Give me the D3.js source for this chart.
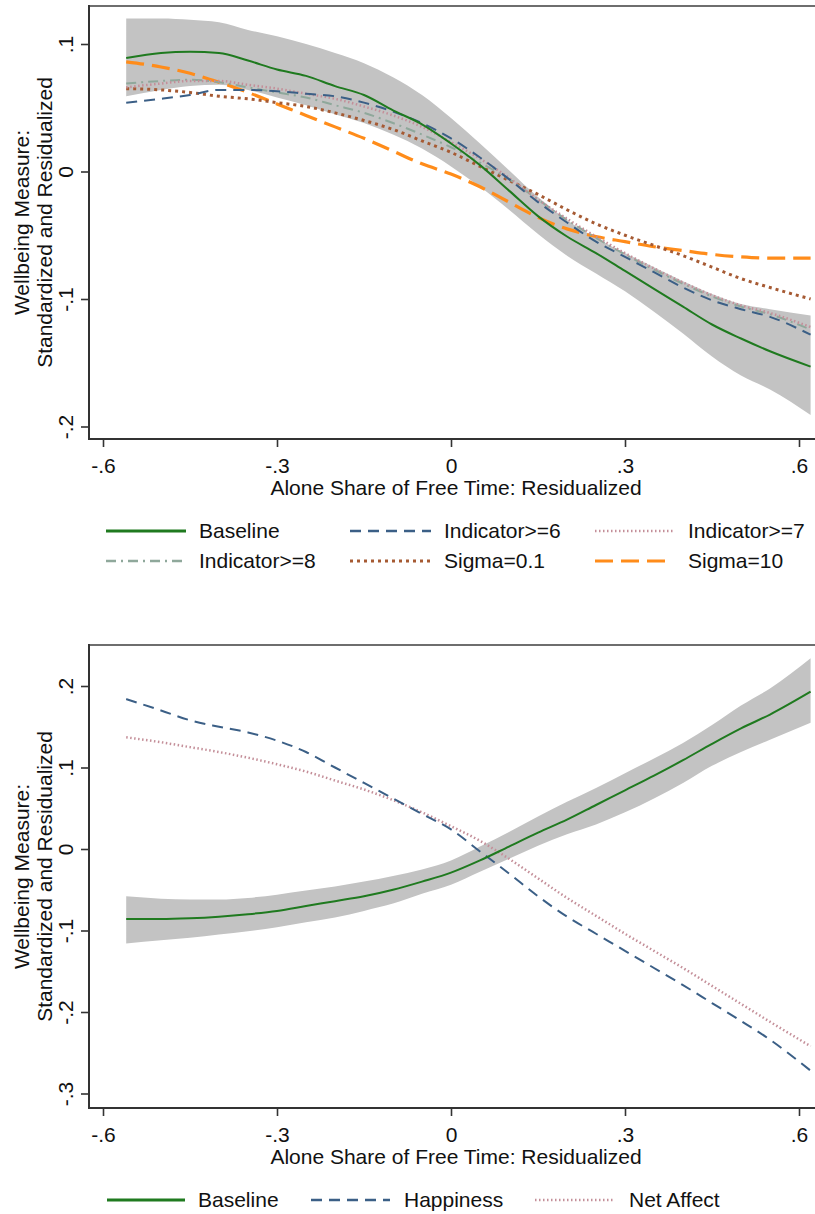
<!DOCTYPE html>
<html>
<head>
<meta charset="utf-8">
<script src="https://cdn.jsdelivr.net/npm/d3@7/dist/d3.min.js"></script>
<style>
  html, body { margin: 0; padding: 0; background: #fff; }
  svg { display: block; }
  text { font-family: "Liberation Sans", Arial, sans-serif; fill: #111; }
</style>
</head>
<body>
<svg id="chart" width="815" height="1214"></svg>
<script>
// ---------- DATA ----------
const xGrid = [-0.56, -0.5, -0.45, -0.4, -0.35, -0.3, -0.25, -0.2, -0.15, -0.1, -0.05, 0,
               0.05, 0.1, 0.15, 0.2, 0.25, 0.3, 0.35, 0.4, 0.45, 0.5, 0.55, 0.62];

const xTicks = [-0.6, -0.3, 0, 0.3, 0.6];
const xTickLabels = ["-.6", "-.3", "0", ".3", ".6"];
const topYTicks = [0.1, 0, -0.1, -0.2];
const topYTickLabels = [".1", "0", "-.1", "-.2"];
const botYTicks = [0.2, 0.1, 0, -0.1, -0.2, -0.3];
const botYTickLabels = [".2", ".1", "0", "-.1", "-.2", "-.3"];

const xTitle = "Alone Share of Free Time: Residualized";
const yTitle = ["Wellbeing Measure:", "Standardized and Residualized"];

// Top panel
const topBaseline = [0.089, 0.093, 0.094, 0.093, 0.087, 0.080, 0.075, 0.067, 0.060, 0.048, 0.037, 0.022,
                     0.005, -0.015, -0.035, -0.051, -0.064, -0.078, -0.092, -0.106, -0.120, -0.131, -0.141, -0.153];
const topBandUpper = [0.120, 0.120, 0.119, 0.117, 0.111, 0.106, 0.100, 0.093, 0.085, 0.074, 0.060, 0.042,
                      0.022, 0.001, -0.020, -0.038, -0.052, -0.064, -0.075, -0.086, -0.096, -0.104, -0.108, -0.113];
const topBandLower = [0.059, 0.064, 0.067, 0.068, 0.064, 0.058, 0.052, 0.045, 0.038, 0.029, 0.018, 0.004,
                      -0.012, -0.030, -0.049, -0.066, -0.080, -0.094, -0.110, -0.127, -0.145, -0.160, -0.171, -0.191];
const indicator6 = [0.054, 0.057, 0.060, 0.064, 0.064, 0.063, 0.061, 0.059, 0.054, 0.047, 0.038, 0.026,
                    0.011, -0.006, -0.024, -0.040, -0.055, -0.067, -0.079, -0.091, -0.101, -0.108, -0.114, -0.128];
const indicator7 = [0.066, 0.069, 0.071, 0.071, 0.068, 0.065, 0.061, 0.057, 0.051, 0.044, 0.035, 0.023,
                    0.010, -0.005, -0.022, -0.037, -0.051, -0.064, -0.076, -0.087, -0.097, -0.105, -0.111, -0.122];
const indicator8 = [0.069, 0.071, 0.072, 0.070, 0.066, 0.062, 0.058, 0.052, 0.046, 0.038, 0.029, 0.019,
                    0.007, -0.006, -0.022, -0.038, -0.052, -0.065, -0.077, -0.088, -0.098, -0.106, -0.112, -0.124];
const sigma01 = [0.065, 0.064, 0.062, 0.059, 0.057, 0.054, 0.051, 0.046, 0.040, 0.033, 0.024, 0.015,
                 0.004, -0.007, -0.018, -0.030, -0.041, -0.050, -0.058, -0.066, -0.075, -0.084, -0.091, -0.100];
const sigma10 = [0.086, 0.082, 0.077, 0.070, 0.062, 0.053, 0.044, 0.035, 0.026, 0.016, 0.006, -0.002,
                 -0.012, -0.024, -0.036, -0.045, -0.051, -0.055, -0.059, -0.062, -0.065, -0.067, -0.068, -0.068];

// Bottom panel
const botBaseline = [-0.086, -0.086, -0.085, -0.083, -0.080, -0.076, -0.070, -0.064, -0.058, -0.050, -0.040, -0.029,
                     -0.014, 0.003, 0.020, 0.036, 0.054, 0.072, 0.090, 0.109, 0.129, 0.148, 0.165, 0.193];
const botBandUpper = [-0.058, -0.061, -0.062, -0.062, -0.060, -0.056, -0.051, -0.046, -0.040, -0.033, -0.025, -0.014,
                      0.003, 0.021, 0.040, 0.058, 0.075, 0.093, 0.111, 0.130, 0.152, 0.176, 0.197, 0.234];
const botBandLower = [-0.116, -0.112, -0.109, -0.105, -0.101, -0.096, -0.090, -0.084, -0.076, -0.067, -0.055, -0.044,
                      -0.028, -0.012, 0.004, 0.018, 0.030, 0.045, 0.062, 0.081, 0.102, 0.119, 0.134, 0.155];
const happiness = [0.184, 0.170, 0.158, 0.150, 0.143, 0.133, 0.119, 0.100, 0.081, 0.062, 0.043, 0.024,
                   -0.003, -0.030, -0.058, -0.083, -0.104, -0.125, -0.146, -0.167, -0.189, -0.211, -0.234, -0.272];
const netAffect = [0.137, 0.131, 0.125, 0.119, 0.112, 0.104, 0.095, 0.084, 0.073, 0.060, 0.045, 0.028,
                   0.010, -0.012, -0.036, -0.060, -0.082, -0.104, -0.125, -0.146, -0.168, -0.190, -0.212, -0.242];

// ---------- STYLES ----------
const styles = {
  baseline:  { color: "#1f7a1f", dash: null,            width: 2,   lw: 3 },
  ind6:      { color: "#3b5f86", dash: "11,7",          width: 2,   lw: 2.5 },
  ind7:      { color: "#c48f99", dash: "1.5,2.5",       width: 2.5, lw: 2.5 },
  ind8:      { color: "#8fa89b", dash: "10,5,2,5",      width: 2,   lw: 2.5 },
  sig01:     { color: "#a65a33", dash: "3,4",           width: 3,   lw: 3 },
  sig10:     { color: "#ff8c1a", dash: "18,8",          width: 3.2, lw: 3.2 },
  happy:     { color: "#3b5f86", dash: "11,7",          width: 2,   lw: 2.5 },
  net:       { color: "#c48f99", dash: "1.5,2.5",       width: 2.5, lw: 2.5 }
};
const bandColor = "#c3c3c3";

// ---------- DRAW ----------
const svg = d3.select("#chart");
const FONT = 21;
const x = d3.scaleLinear().domain([-0.6, 0.6]).range([103, 799]);
const plotLeft = 89, plotRight = 830;

function panel(cfg) {
  const y = d3.scaleLinear().domain(cfg.yDom).range(cfg.yRange);
  const g = svg.append("g");
  const top = cfg.top, bottom = cfg.bottom;

  // CI band
  const area = d3.area().curve(d3.curveMonotoneX)
    .x((d, i) => x(xGrid[i])).y0((d, i) => y(cfg.band[1][i])).y1((d) => y(d));
  g.append("path").datum(cfg.band[0]).attr("d", area).attr("fill", bandColor);

  // lines (draw in given order)
  const line = d3.line().curve(d3.curveMonotoneX).x((d, i) => x(xGrid[i])).y(d => y(d));
  cfg.series.forEach(s => {
    const st = styles[s.style];
    g.append("path").datum(s.values).attr("d", line)
      .attr("fill", "none").attr("stroke", st.color).attr("stroke-width", st.width)
      .attr("stroke-dasharray", st.dash).attr("stroke-linejoin", "round");
  });

  // frame top
  g.append("line").attr("x1", plotLeft).attr("x2", plotRight).attr("y1", top).attr("y2", top)
    .attr("stroke", "#6e6e6e").attr("stroke-width", 2);

  // y axis
  const ya = d3.axisLeft(y).tickValues(cfg.yTicks).tickSize(8).tickFormat((d, i) => cfg.yLabels[i]);
  const yg = g.append("g").attr("transform", `translate(${plotLeft},0)`).call(ya);
  yg.select(".domain").remove();
  yg.selectAll(".tick line").attr("stroke", "#333").attr("stroke-width", 1.6);
  yg.selectAll(".tick text")
    .attr("x", null).attr("dy", null)
    .attr("transform", "translate(-16,0) rotate(-90)")
    .attr("text-anchor", "middle").attr("y", 0)
    .style("font-size", FONT + "px").style("font-family", '"Liberation Sans", Arial, sans-serif')
    .attr("fill", "#111");
  g.append("line").attr("x1", plotLeft).attr("x2", plotLeft).attr("y1", top - 1).attr("y2", bottom + 1)
    .attr("stroke", "#333").attr("stroke-width", 2);

  // x axis
  const xa = d3.axisBottom(x).tickValues(xTicks).tickSize(8).tickFormat((d, i) => xTickLabels[i]);
  const xg = g.append("g").attr("transform", `translate(0,${bottom})`).call(xa);
  xg.select(".domain").remove();
  xg.selectAll(".tick line").attr("stroke", "#333").attr("stroke-width", 1.6);
  xg.selectAll(".tick text").attr("dy", null).attr("y", 34)
    .style("font-size", FONT + "px").style("font-family", '"Liberation Sans", Arial, sans-serif')
    .attr("fill", "#111");
  g.append("line").attr("x1", plotLeft - 1).attr("x2", plotRight).attr("y1", bottom).attr("y2", bottom)
    .attr("stroke", "#333").attr("stroke-width", 2);

  // titles
  g.append("text").attr("x", 456).attr("y", bottom + 56).attr("text-anchor", "middle")
    .style("font-size", FONT + "px").text(xTitle);
  const cy = (top + bottom) / 2;
  [29, 52].forEach((bx, i) => {
    g.append("text").attr("transform", `translate(${bx},${cy}) rotate(-90)`)
      .attr("text-anchor", "middle").style("font-size", FONT + "px").text(yTitle[i]);
  });

  // legend
  cfg.legend.forEach(item => {
    const st = styles[item.style];
    const ly = bottom + 92 + item.row * 30;
    g.append("line").attr("x1", item.x1).attr("x2", item.x2).attr("y1", ly).attr("y2", ly)
      .attr("stroke", st.color).attr("stroke-width", st.lw).attr("stroke-dasharray", st.dash);
    g.append("text").attr("x", item.tx).attr("y", ly + 7)
      .style("font-size", FONT + "px").text(item.label);
  });
}

panel({
  top: 6, bottom: 439,
  yDom: [-0.2, 0.1], yRange: [426.5, 44],
  yTicks: topYTicks, yLabels: topYTickLabels,
  band: [topBandUpper, topBandLower],
  series: [
    { style: "sig10", values: sigma10 },
    { style: "sig01", values: sigma01 },
    { style: "ind8", values: indicator8 },
    { style: "ind7", values: indicator7 },
    { style: "ind6", values: indicator6 },
    { style: "baseline", values: topBaseline }
  ],
  legend: [
    { label: "Baseline",     style: "baseline", row: 0, x1: 106, x2: 186, tx: 199 },
    { label: "Indicator>=6", style: "ind6",     row: 0, x1: 350, x2: 431, tx: 444 },
    { label: "Indicator>=7", style: "ind7",     row: 0, x1: 595, x2: 673, tx: 688 },
    { label: "Indicator>=8", style: "ind8",     row: 1, x1: 106, x2: 186, tx: 199 },
    { label: "Sigma=0.1",    style: "sig01",    row: 1, x1: 350, x2: 431, tx: 444 },
    { label: "Sigma=10",     style: "sig10",    row: 1, x1: 595, x2: 673, tx: 688 }
  ]
});

panel({
  top: 645, bottom: 1108,
  yDom: [-0.3, 0.2], yRange: [1093.5, 686],
  yTicks: botYTicks, yLabels: botYTickLabels,
  band: [botBandUpper, botBandLower],
  series: [
    { style: "net", values: netAffect },
    { style: "happy", values: happiness },
    { style: "baseline", values: botBaseline }
  ],
  legend: [
    { label: "Baseline",   style: "baseline", row: 0, x1: 107, x2: 185, tx: 198 },
    { label: "Happiness",  style: "happy",    row: 0, x1: 311, x2: 390, tx: 404 },
    { label: "Net Affect", style: "net",      row: 0, x1: 535, x2: 613, tx: 629 }
  ]
});
</script>
</body>
</html>
